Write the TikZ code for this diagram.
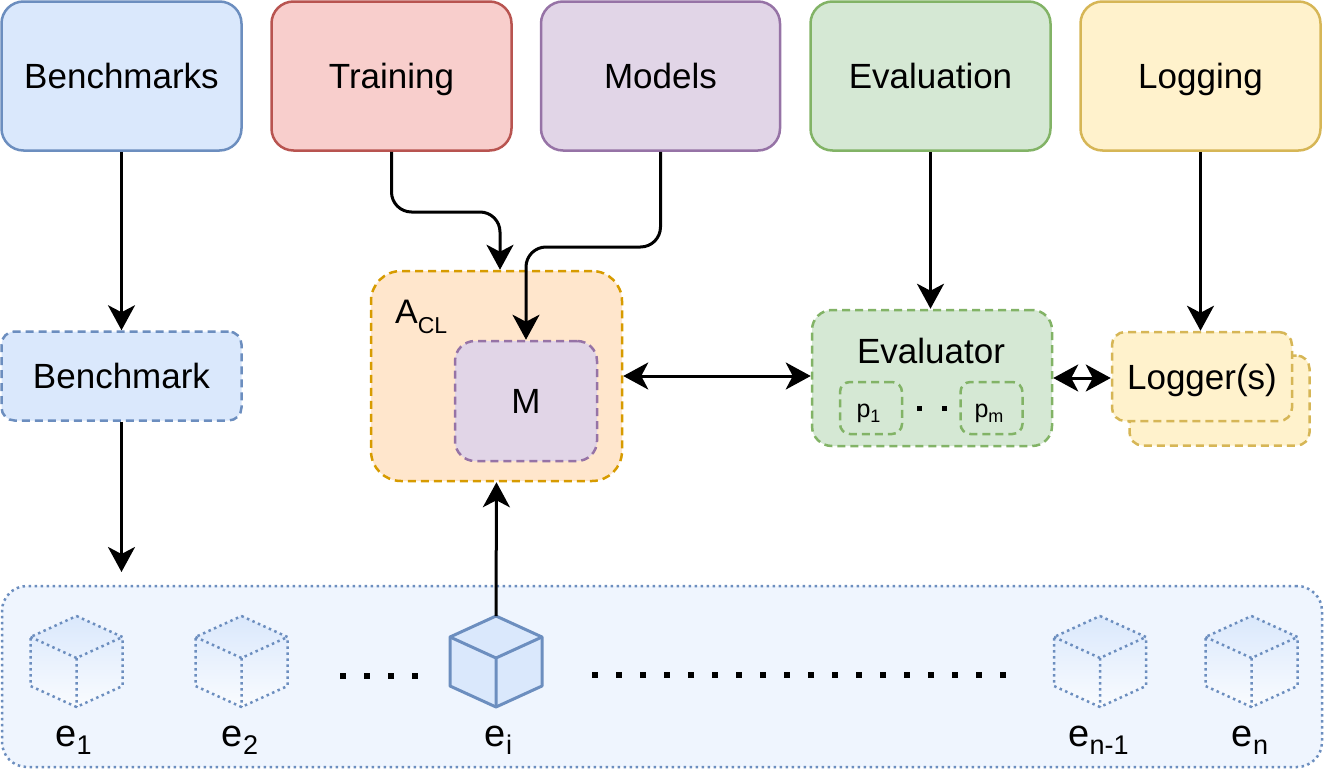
\documentclass[tikz,border=0pt]{standalone}
\usepackage{fontspec}
\setmainfont{Liberation Sans}
\usetikzlibrary{arrows.meta,calc}
\definecolor{bfill}{HTML}{DAE8FC}\definecolor{bdraw}{HTML}{6C8EBF}
\definecolor{rfill}{HTML}{F8CECC}\definecolor{rdraw}{HTML}{B85450}
\definecolor{pfill}{HTML}{E1D5E7}\definecolor{pdraw}{HTML}{9673A6}
\definecolor{gfill}{HTML}{D5E8D4}\definecolor{gdraw}{HTML}{82B366}
\definecolor{yfill}{HTML}{FFF2CC}\definecolor{ydraw}{HTML}{D6B656}
\definecolor{ofill}{HTML}{FFE6CC}\definecolor{odraw}{HTML}{D79B00}
\definecolor{envfill}{HTML}{EFF5FE}
\newcommand\esub[1]{e\raisebox{-8pt}{\fontsize{27}{27}\selectfont #1}}
\tikzset{
  bigfont/.style={font=\fontsize{35}{42}\selectfont},
  topbox/.style={draw, line width=2.5pt, rounded corners=22pt, minimum width=240pt, minimum height=149pt, bigfont, text height=25pt, text depth=0pt, inner sep=0pt},
  dashbox/.style={draw, line width=2.5pt, dash pattern=on 8pt off 5pt, inner sep=0pt},
  dotline/.style={line width=2.5pt, dash pattern=on 2.5pt off 3.5pt},
  arr/.style={line width=3pt, -{Stealth[length=25pt,width=27pt,inset=7pt]}},
  arrboth/.style={line width=3pt, {Stealth[length=25pt,width=27pt,inset=7pt]}-{Stealth[length=25pt,width=27pt,inset=7pt]}},
  elab/.style={anchor=base, inner sep=0pt, font=\fontsize{38}{44}\selectfont},
  sqdot/.style={fill=black},
  dcube/.pic={
    \shade[top color=bfill, bottom color=bfill!15] (0,0) -- (46,21) -- (46,70) -- (0,91) -- (-46,70) -- (-46,21) -- cycle;
    \draw[bdraw, dotline, line join=round] (0,0) -- (46,21) -- (46,70) -- (0,91) -- (-46,70) -- (-46,21) -- cycle;
    \draw[bdraw, dotline] (-46,21) -- (0,42) -- (46,21) (0,42) -- (0,91);
  },
  scube/.pic={
    \draw[bdraw, fill=bfill, line width=3pt, line join=round] (0,0) -- (46,21) -- (46,70) -- (0,91) -- (-46,70) -- (-46,21) -- cycle;
    \draw[bdraw, line width=3pt, line join=round] (-46,21) -- (0,42) -- (46,21) (0,42) -- (0,91);
  }
}
\begin{document}
\begin{tikzpicture}[x=1pt,y=-1pt]
\useasboundingbox (0,0) rectangle (1326,771);

% environment stream container
\node[draw=bdraw, fill=envfill, dotline, rounded corners=25pt, minimum width=1320pt, minimum height=181pt, inner sep=0pt] (env) at (662,676.5) {};

% top boxes
\node[topbox, fill=bfill, draw=bdraw] (bms) at (121.5,76) {Benchmarks};
\node[topbox, fill=rfill, draw=rdraw] (train) at (391.5,76) {Training};
\node[topbox, fill=pfill, draw=pdraw, minimum width=239pt] (models) at (660.5,76) {Models};
\node[topbox, fill=gfill, draw=gdraw] (evaln) at (930.5,76) {Evaluation};
\node[topbox, fill=yfill, draw=ydraw] (logging) at (1200.5,76) {Logging};

% benchmark
\node[dashbox, fill=bfill, draw=bdraw, rounded corners=13pt, minimum width=240pt, minimum height=89pt, bigfont, text height=25pt, text depth=0pt] (bm) at (121.5,376) {Benchmark};

% A_CL
\node[dashbox, fill=ofill, draw=odraw, rounded corners=30pt, minimum width=251pt, minimum height=210pt] (acl) at (496.5,376) {};
\node[anchor=base west, inner sep=0pt, font=\fontsize{34}{40}\selectfont] (acllab) at (395,323) {A\raisebox{-10pt}{\fontsize{23}{23}\selectfont CL}};
\node[dashbox, fill=pfill, draw=pdraw, rounded corners=20pt, minimum width=142pt, minimum height=120pt, bigfont, text height=25pt, text depth=0pt] (m) at (526,401) {M};

% evaluator
\node[dashbox, fill=gfill, draw=gdraw, rounded corners=20pt, minimum width=240pt, minimum height=136pt] (eval) at (932,378) {};
\node[anchor=base, inner sep=0pt, bigfont] (evaltxt) at (931,363) {Evaluator};
\node[dashbox, draw=gdraw, rounded corners=10pt, minimum width=62pt, minimum height=52pt] (p1) at (871,408) {};
\node[dashbox, draw=gdraw, rounded corners=10pt, minimum width=62pt, minimum height=52pt] (pm) at (991.5,408) {};
\node[anchor=base, inner sep=0pt, font=\fontsize{25}{28}\selectfont] (p1txt) at (868.5,417) {p\raisebox{-5pt}{\fontsize{18}{18}\selectfont 1}};
\node[anchor=base, inner sep=0pt, font=\fontsize{25}{28}\selectfont] (pmtxt) at (989,417) {p\raisebox{-5pt}{\fontsize{18}{18}\selectfont m}};
\foreach \x in {919,944} \fill[sqdot] (\x-2.5,405.5) rectangle (\x+2.5,410.5);

% loggers
\node[dashbox, fill=yfill, draw=ydraw, rounded corners=13pt, minimum width=180pt, minimum height=90pt] (loggerb) at (1219.5,400.5) {};
\node[dashbox, fill=yfill, draw=ydraw, rounded corners=13pt, minimum width=180pt, minimum height=89pt, bigfont, text height=25pt, text depth=0pt] (logger) at (1202,376.5) {Logger(s)};

% cubes
\pic at (76.5,616) {dcube};
\pic at (241.5,616) {dcube};
\pic at (496,616) {scube};
\pic at (1100,616) {dcube};
\pic at (1251.5,616) {dcube};
\coordinate (citop) at (496,616);
\node[elab] (l1) at (73.5,746) {\esub{1}};
\node[elab] (l2) at (240,746) {\esub{2}};
\node[elab] (li) at (498.5,746) {\esub{i}};
\node[elab] (ln1) at (1098.5,746) {\esub{n-1}};
\node[elab] (ln) at (1250,746) {\esub{n}};
\foreach \k in {0,...,3} \fill[sqdot] (343+24*\k-3,673) rectangle (343+24*\k+3,679);
\foreach \k in {0,...,17} \fill[sqdot] (595+24*\k-3,672) rectangle (595+24*\k+3,678);

% connectors
\coordinate (bmend) at (121.5,572);
\coordinate (tbend) at (0,212);
\coordinate (mbend) at (0,247);
\coordinate (aclin) at ([xshift=3.5pt]acl.north);
\draw[arr] (bms.south) -- (bm.north);
\draw[arr] (bm.south) -- (bmend);
\draw[arr, rounded corners=20pt] (train.south) |- (tbend -| aclin) -- (aclin);
\draw[arr, rounded corners=20pt] (models.south) |- (mbend -| m.north) -- (m.north);
\draw[arrboth] (acl.east) -- (acl.east -| eval.west);
\draw[arr] (evaln.south) -- (evaln.south |- eval.north);
\draw[arr] (logging.south) -- (logging.south |- logger.north);
\draw[arrboth] (eval.east) -- (eval.east -| logger.west);
\draw[arr] (citop) -- (acl.south);
\end{tikzpicture}
\end{document}
